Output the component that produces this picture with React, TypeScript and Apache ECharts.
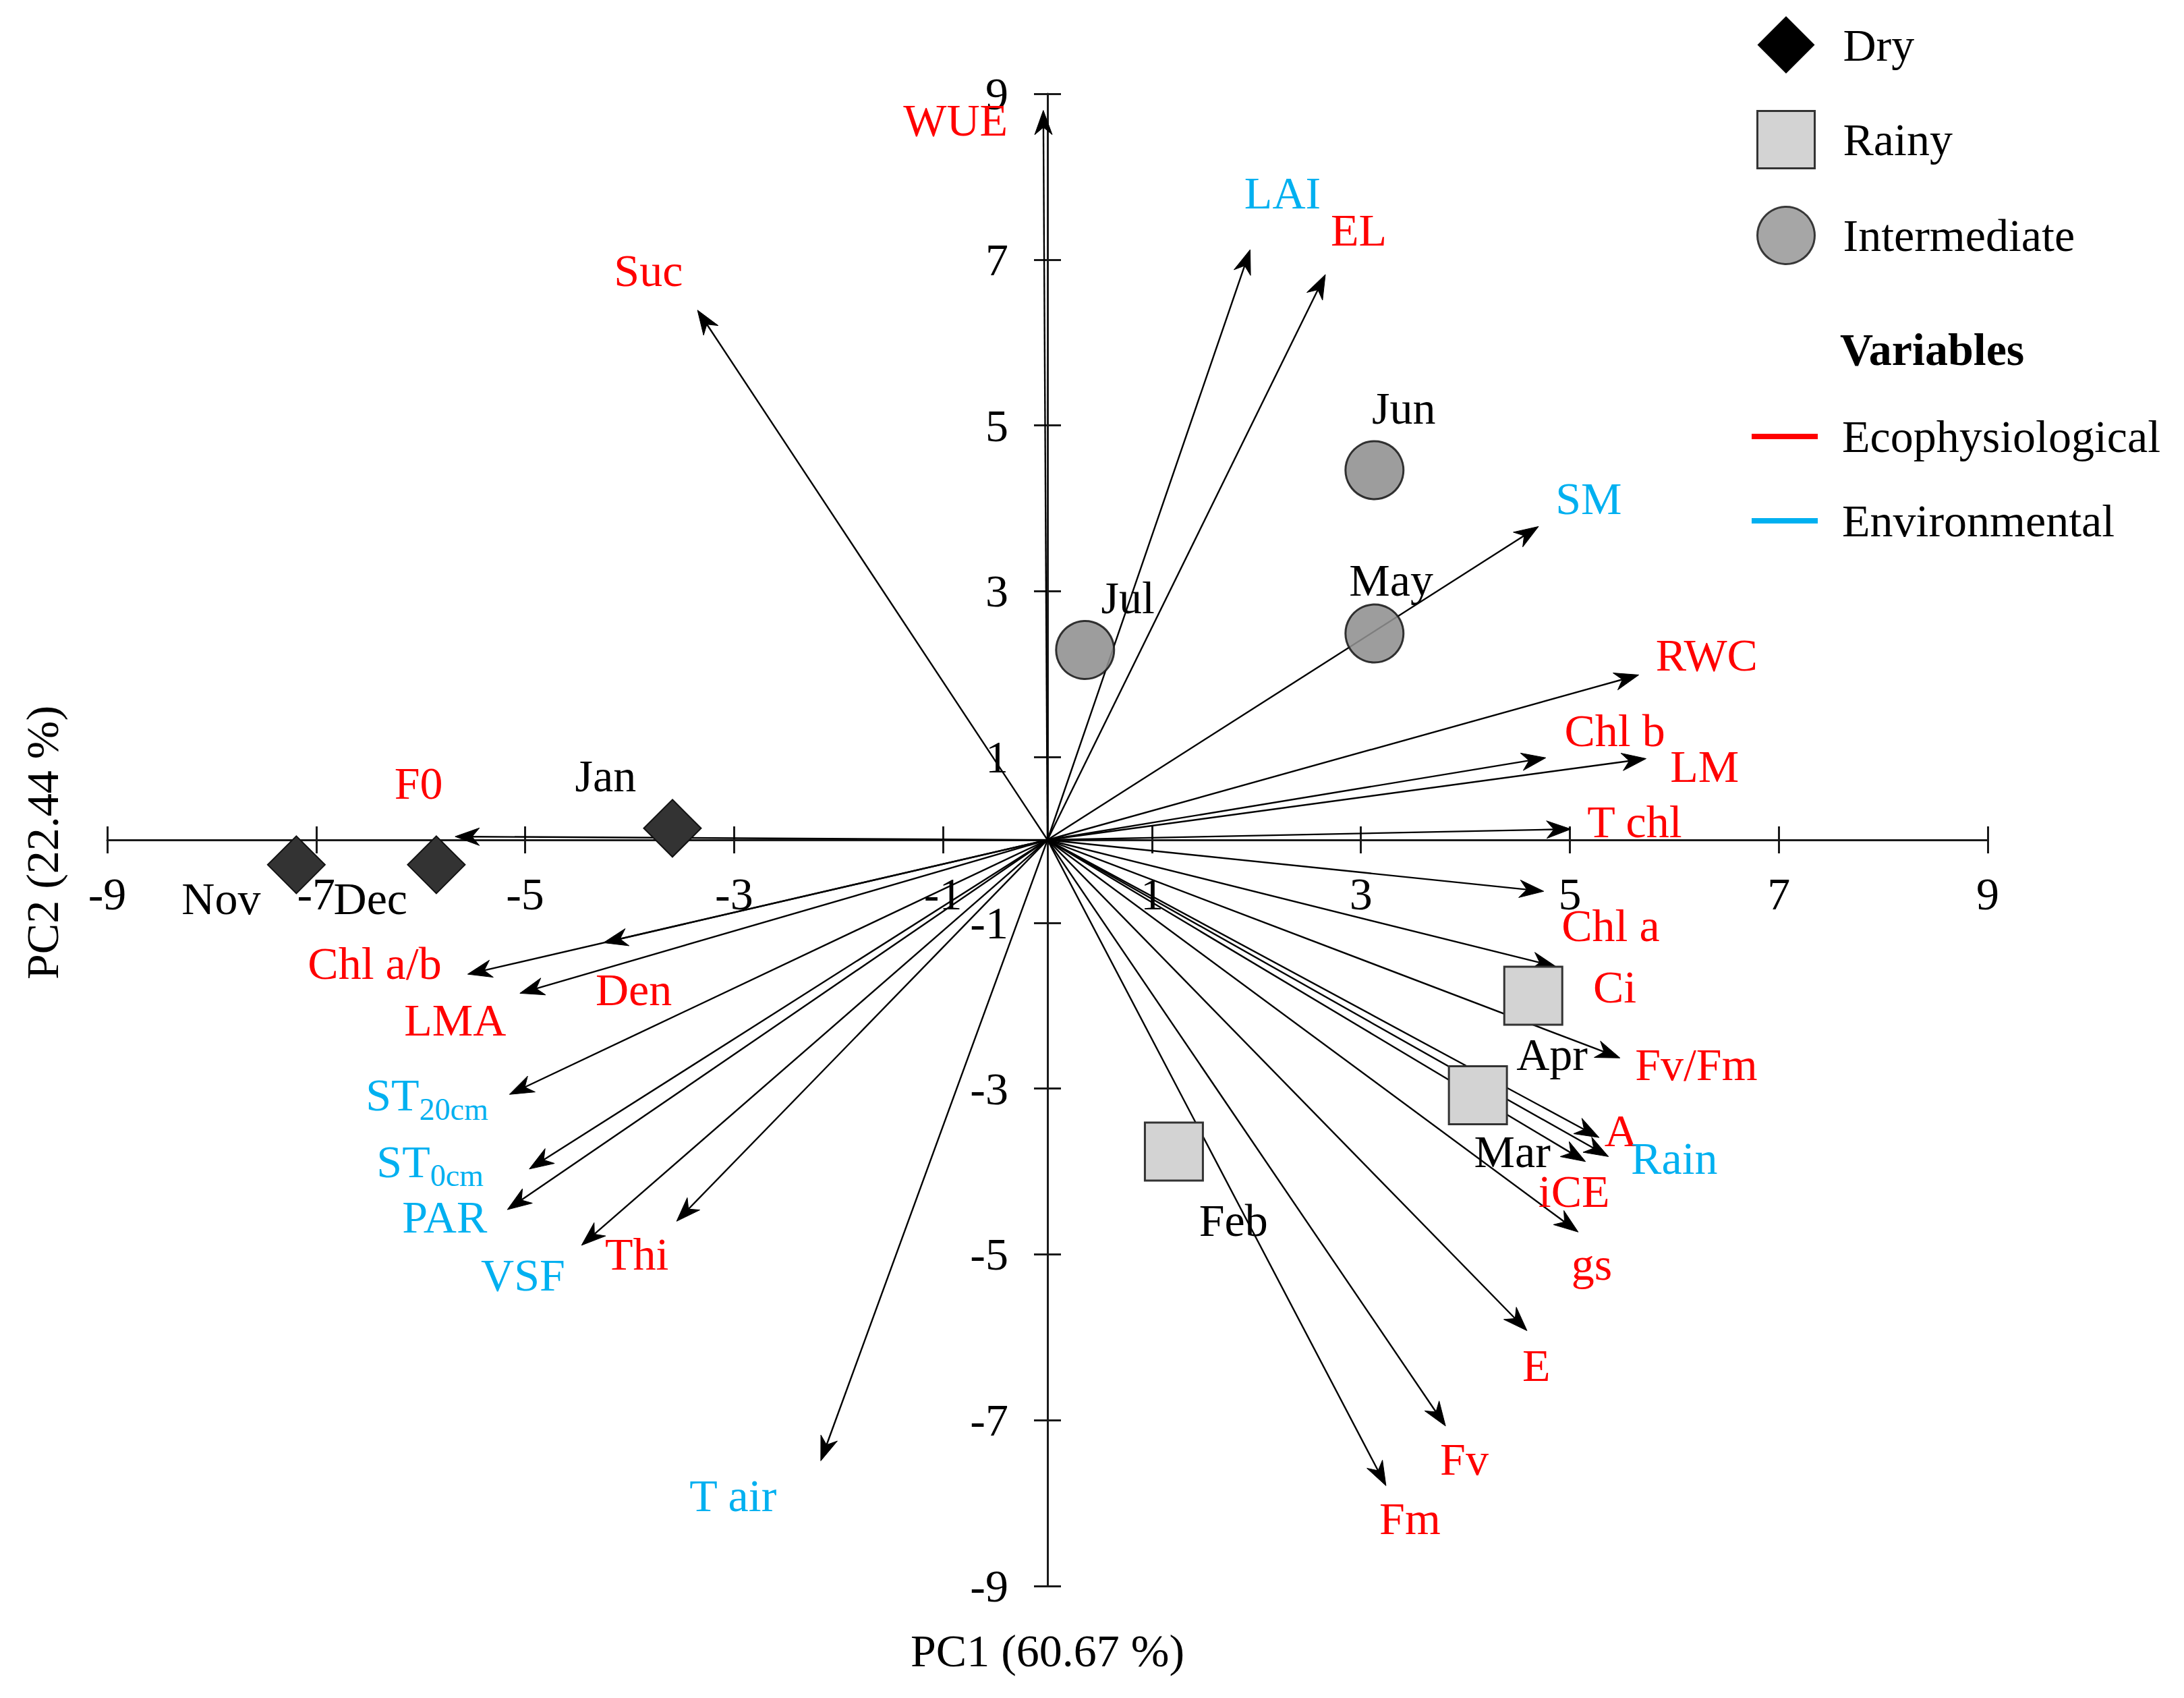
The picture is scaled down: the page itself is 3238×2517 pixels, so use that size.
import React, { useEffect, useRef } from 'react';
import * as echarts from 'echarts';

const FONT = '"Liberation Serif", "Times New Roman", Times, serif';
const RED = '#FF0000';
const BLUE = '#00B0F0';
const AXIS_COLOR = '#1a1a1a';

// Tick labels on both axes
const tickValues = [-9, -7, -5, -3, -1, 1, 3, 5, 7, 9];

// Sample scores (months) by season
const dryMonths = ['Nov', 'Dec', 'Jan'];
const dryPC1 = [-7.19, -5.85, -3.59];
const dryPC2 = [-0.3, -0.3, 0.14];

const rainyMonths = ['Feb', 'Mar', 'Apr'];
const rainyPC1 = [1.21, 4.12, 4.65];
const rainyPC2 = [-3.76, -3.08, -1.88];

const interMonths = ['May', 'Jun', 'Jul'];
const interPC1 = [3.13, 3.13, 0.36];
const interPC2 = [2.49, 4.46, 2.29];

// Month label anchors (data coordinates)
const monthNames = ['Nov', 'Dec', 'Jan', 'Feb', 'Mar', 'Apr', 'May', 'Jun', 'Jul'];
const monthLabelPC1 = [-7.91, -6.48, -4.23, 1.78, 4.45, 4.83, 3.29, 3.41, 0.77];
const monthLabelPC2 = [-0.71, -0.71, 0.77, -4.59, -3.76, -2.59, 3.13, 5.21, 2.92];

// Variable loadings (arrow tips)
const varNames = ['WUE', 'Suc', 'LAI', 'EL', 'SM', 'RWC', 'Chl b', 'LM', 'T chl', 'Chl a', 'Ci', 'Fv/Fm', 'A', 'Rain', 'iCE', 'gs', 'E', 'Fv', 'Fm', 'T air', 'Thi', 'VSF', 'PAR', 'ST0cm', 'ST20cm', 'LMA', 'Chl a/b', 'Den', 'F0'];
const varGroup = ['eco', 'eco', 'env', 'eco', 'env', 'eco', 'eco', 'eco', 'eco', 'eco', 'eco', 'eco', 'eco', 'env', 'eco', 'eco', 'eco', 'eco', 'eco', 'env', 'eco', 'env', 'env', 'env', 'env', 'eco', 'eco', 'eco', 'eco'];
const varPC1 = [-0.04, -3.35, 1.94, 2.66, 4.7, 5.66, 4.77, 5.73, 5.01, 4.75, 4.87, 5.48, 5.28, 5.37, 5.15, 5.08, 4.59, 3.81, 3.24, -2.17, -3.55, -4.46, -5.17, -4.96, -5.15, -5.05, -5.55, -4.25, -5.67];
const varPC2 = [8.8, 6.39, 7.12, 6.82, 3.78, 1.99, 0.99, 0.98, 0.13, -0.62, -1.53, -2.63, -3.59, -3.82, -3.88, -4.73, -5.92, -7.07, -7.79, -7.49, -4.6, -4.89, -4.46, -3.97, -3.07, -1.85, -1.62, -1.24, 0.04];
// Variable label anchors (data coordinates)
const labelPC1 = [-0.88, -3.82, 2.25, 2.98, 5.18, 6.31, 5.43, 6.29, 5.62, 5.39, 5.43, 6.21, 5.49, 6.0, 5.04, 5.21, 4.68, 3.99, 3.47, -3.01, -3.93, -5.02, -5.77, -5.91, -5.94, -5.67, -6.44, -3.96, -6.02];
const labelPC2 = [8.68, 6.87, 7.8, 7.36, 4.12, 2.23, 1.32, 0.89, 0.22, -1.03, -1.77, -2.71, -3.51, -3.84, -4.24, -5.12, -6.34, -7.47, -8.19, -7.91, -5.0, -5.25, -4.55, -3.88, -3.08, -2.17, -1.49, -1.81, 0.68];

const toRich = (name: string) => {
  const m = name.match(/^ST(\d+cm)$/);
  if (m) return '{m|ST}{s|' + m[1] + '}';
  return '{m|' + name + '}';
};

function buildOption() {
  const arrowData = varPC1.map((x, i) => [x, varPC2[i]]);
  const ecoIdx = varNames.map((_, i) => i).filter((i) => varGroup[i] === 'eco');
  const envIdx = varNames.map((_, i) => i).filter((i) => varGroup[i] === 'env');

  const labelRender = (color: string) => (params: any, api: any) => {
    const i = api.value(2);
    const p = api.coord([api.value(0), api.value(1)]);
    return {
      type: 'text',
      x: p[0],
      y: p[1],
      style: {
        text: toRich(varNames[i]),
        align: 'center',
        verticalAlign: 'middle',
        rich: {
          m: { fontSize: 68, lineHeight: 68, fontFamily: FONT, fill: color, color: color },
          s: { fontSize: 46, lineHeight: 46, fontFamily: FONT, fill: color, color: color, padding: [42, 0, 0, 0] },
        },
      },
    };
  };

  const axisLineStyle = { color: AXIS_COLOR, width: 3 };

  return {
    animation: false,
    backgroundColor: '#ffffff',
    grid: { left: 159, top: 139, width: 2788, height: 2212, containLabel: false, outerBoundsMode: 'none' },
    xAxis: [
      {
        type: 'value', min: -9, max: 9, interval: 1, position: 'bottom',
        splitLine: { show: false },
        axisLine: { show: true, onZero: true, lineStyle: axisLineStyle },
        axisTick: { show: true, inside: false, length: 20, customValues: tickValues, lineStyle: axisLineStyle },
        axisLabel: { show: false },
      },
      {
        type: 'value', min: -9, max: 9, interval: 1, position: 'top',
        splitLine: { show: false },
        axisLine: { show: false, onZero: true, onZeroAxisIndex: 0 },
        axisTick: { show: true, inside: false, length: 20, customValues: tickValues, lineStyle: axisLineStyle },
        axisLabel: { show: false },
      },
    ],
    yAxis: [
      {
        type: 'value', min: -9, max: 9, interval: 1, position: 'left',
        splitLine: { show: false },
        axisLine: { show: true, onZero: true, lineStyle: axisLineStyle },
        axisTick: { show: true, inside: false, length: 20, customValues: tickValues, lineStyle: axisLineStyle },
        axisLabel: { show: false },
      },
      {
        type: 'value', min: -9, max: 9, interval: 1, position: 'right',
        splitLine: { show: false },
        axisLine: { show: false, onZero: true, onZeroAxisIndex: 0 },
        axisTick: { show: true, inside: false, length: 20, customValues: tickValues, lineStyle: axisLineStyle },
        axisLabel: { show: false },
      },
    ],
    legend: [
      {
        orient: 'vertical', left: 2604, top: 24, padding: 0,
        itemWidth: 85, itemHeight: 85, itemGap: 54, selectedMode: false,
        textStyle: { fontSize: 68, fontFamily: FONT, color: '#000', padding: [0, 0, 0, 37] },
        data: [
          { name: 'Dry', icon: 'diamond', itemStyle: { color: '#000', borderWidth: 0 } },
          { name: 'Rainy', icon: 'rect', itemStyle: { color: '#d3d3d3', borderColor: '#333', borderWidth: 3 } },
          { name: 'Intermediate', icon: 'circle', itemStyle: { color: '#9a9a9a', borderColor: '#222', borderWidth: 3 } },
        ],
      },
      {
        orient: 'vertical', left: 2597, top: 607, padding: 0,
        itemWidth: 98, itemHeight: 8, itemGap: 45, selectedMode: false,
        textStyle: { fontSize: 68, lineHeight: 80, fontFamily: FONT, color: '#000', padding: [0, 0, 0, 31] },
        data: [
          { name: 'Ecophysiological', icon: 'rect', itemStyle: { color: RED, borderWidth: 0 } },
          { name: 'Environmental', icon: 'rect', itemStyle: { color: BLUE, borderWidth: 0 } },
        ],
      },
    ],
    graphic: [
      {
        type: 'text', x: 2728, y: 518, silent: true,
        style: { text: 'Variables', fontSize: 68, fontWeight: 'bold', fontFamily: FONT, fill: '#000', align: 'left', verticalAlign: 'middle' },
      },
      {
        type: 'text', x: 1553, y: 2447, silent: true,
        style: { text: 'PC1 (60.67 %)', fontSize: 68, fontFamily: FONT, fill: '#000', align: 'center', verticalAlign: 'middle' },
      },
      {
        type: 'text', x: 63, y: 1249, rotation: Math.PI / 2, silent: true,
        style: { text: 'PC2 (22.44 %)', fontSize: 68, fontFamily: FONT, fill: '#000', align: 'center', verticalAlign: 'middle' },
      },
    ],
    series: [
      {
        type: 'custom', name: 'arrows', z: 2, silent: true,
        data: arrowData,
        renderItem: (params: any, api: any) => {
          const o = api.coord([0, 0]);
          const t = api.coord([api.value(0), api.value(1)]);
          const dx = t[0] - o[0];
          const dy = t[1] - o[1];
          const len = Math.hypot(dx, dy) || 1;
          const ux = dx / len, uy = dy / len;
          const px = -uy, py = ux;
          const L = 36, W = 13;
          const bx = t[0] - ux * L, by = t[1] - uy * L;
          const nx = t[0] - ux * L * 0.7, ny = t[1] - uy * L * 0.7;
          return {
            type: 'group',
            children: [
              { type: 'line', shape: { x1: o[0], y1: o[1], x2: nx, y2: ny }, style: { stroke: '#000', lineWidth: 2.4 } },
              { type: 'polygon', shape: { points: [[t[0], t[1]], [bx + px * W, by + py * W], [nx, ny], [bx - px * W, by - py * W]] }, style: { fill: '#000', stroke: '#000', lineWidth: 1 } },
            ],
          };
        },
      },
      {
        // x-axis tick labels, placed under the zero line
        type: 'custom', name: 'xTickLabels', z: 4, silent: true,
        data: tickValues.map((v) => [v, 0]),
        renderItem: (params: any, api: any) => {
          const v = api.value(0);
          const p = api.coord([v, 0]);
          return {
            type: 'text', x: p[0], y: p[1] + 80,
            style: { text: String(v), fontSize: 68, fontFamily: FONT, fill: '#000', align: 'center', verticalAlign: 'middle' },
          };
        },
      },
      {
        // y-axis tick labels, placed left of the zero line
        type: 'custom', name: 'yTickLabels', z: 4, silent: true,
        data: tickValues.map((v) => [0, v]),
        renderItem: (params: any, api: any) => {
          const v = api.value(1);
          const p = api.coord([0, v]);
          return {
            type: 'text', x: p[0] - 58, y: p[1],
            style: { text: String(v), fontSize: 68, fontFamily: FONT, fill: '#000', align: 'right', verticalAlign: 'middle' },
          };
        },
      },
      {
        type: 'scatter', name: 'Dry', z: 5, silent: true,
        data: dryPC1.map((x, i) => ({ name: dryMonths[i], value: [x, dryPC2[i]] })),
        symbol: 'diamond', symbolSize: [85, 85],
        itemStyle: { color: '#333333', borderColor: '#111', borderWidth: 2, opacity: 1 },
      },
      {
        type: 'scatter', name: 'Rainy', z: 5, silent: true,
        data: rainyPC1.map((x, i) => ({ name: rainyMonths[i], value: [x, rainyPC2[i]] })),
        symbol: 'rect', symbolSize: 86,
        itemStyle: { color: '#d3d3d3', borderColor: '#333', borderWidth: 3, opacity: 1 },
      },
      {
        type: 'scatter', name: 'Intermediate', z: 5, silent: true,
        data: interPC1.map((x, i) => ({ name: interMonths[i], value: [x, interPC2[i]] })),
        symbol: 'circle', symbolSize: 86,
        itemStyle: { color: '#8f8f8f', borderColor: '#1a1a1a', borderWidth: 3, opacity: 0.88 },
      },
      {
        type: 'custom', name: 'Ecophysiological', z: 6, silent: true,
        itemStyle: { color: RED },
        data: ecoIdx.map((i) => [labelPC1[i], labelPC2[i], i]),
        renderItem: labelRender(RED),
      },
      {
        type: 'custom', name: 'Environmental', z: 6, silent: true,
        itemStyle: { color: BLUE },
        data: envIdx.map((i) => [labelPC1[i], labelPC2[i], i]),
        renderItem: labelRender(BLUE),
      },
      {
        type: 'custom', name: 'months', z: 6, silent: true,
        data: monthNames.map((_, i) => [monthLabelPC1[i], monthLabelPC2[i], i]),
        renderItem: (params: any, api: any) => {
          const i = api.value(2);
          const p = api.coord([api.value(0), api.value(1)]);
          return {
            type: 'text', x: p[0], y: p[1],
            style: { text: monthNames[i], fontSize: 68, fontFamily: FONT, fill: '#000', align: 'center', verticalAlign: 'middle' },
          };
        },
      },
    ],
  };
}

export default function App() {
  const ref = useRef<HTMLDivElement>(null);
  useEffect(() => {
    if (!ref.current) return;
    const chart = echarts.init(ref.current, null, { renderer: 'svg' });
    chart.setOption(buildOption() as any);
    return () => {
      chart.dispose();
    };
  }, []);
  return (
    <div
      ref={ref}
      style={{ position: 'fixed', left: 0, top: 0, width: 3238, height: 2517, background: '#ffffff' }}
    />
  );
}
